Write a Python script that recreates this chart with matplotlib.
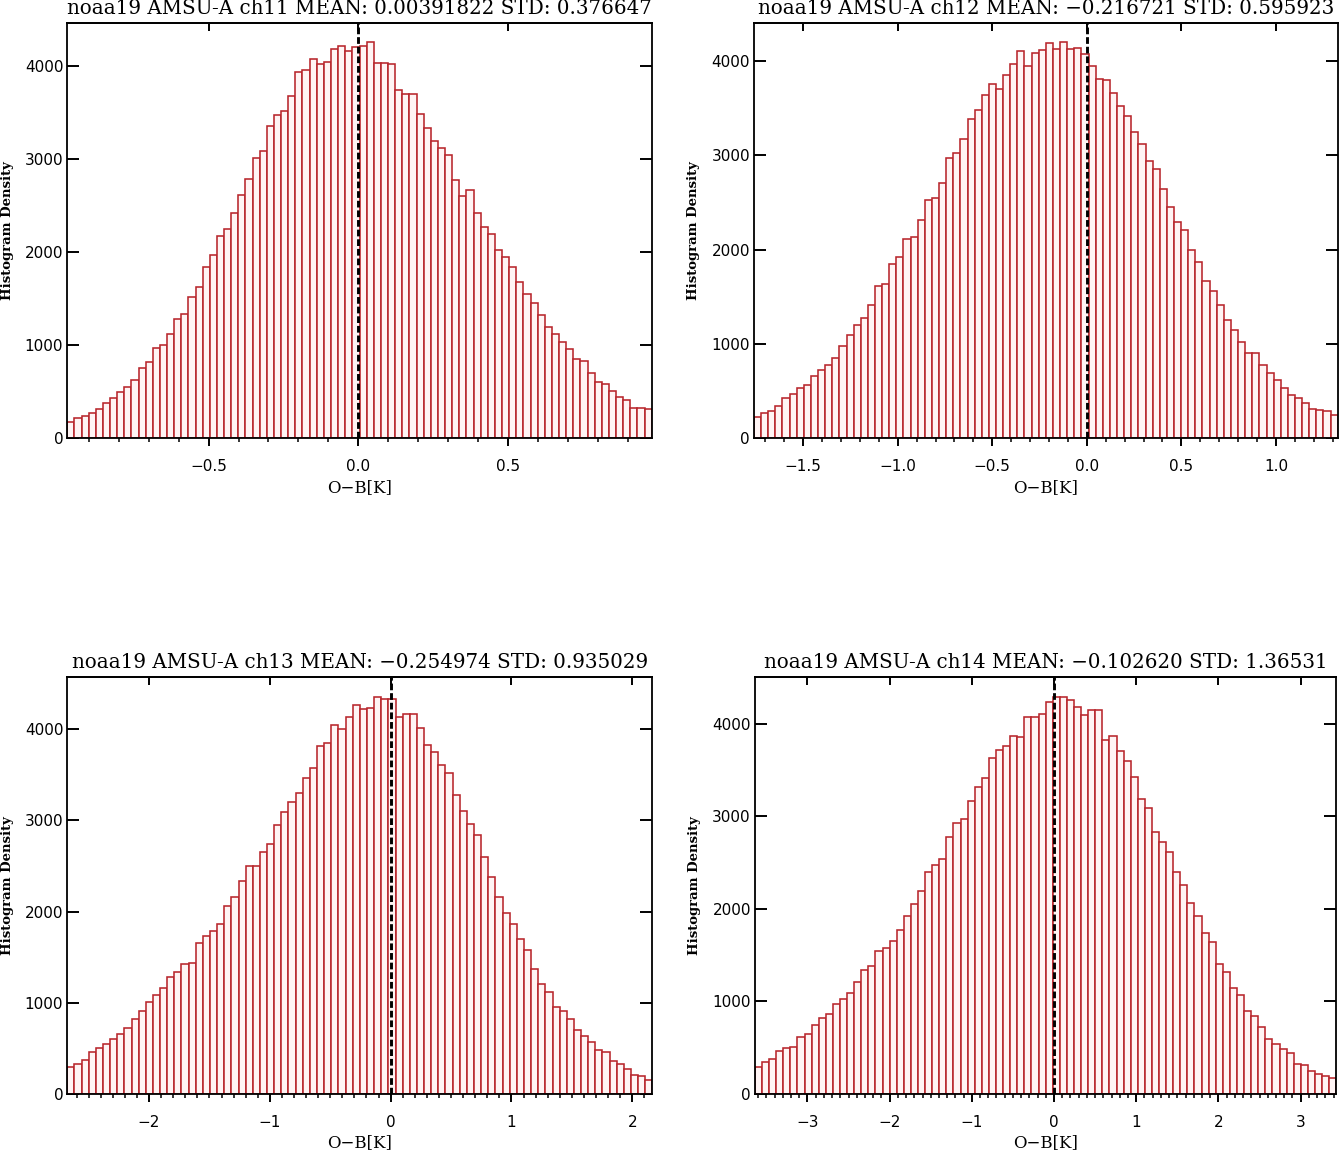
import matplotlib
matplotlib.use("Agg")
import matplotlib.pyplot as plt
import numpy as np
from matplotlib.ticker import FixedLocator, MultipleLocator, NullLocator, FuncFormatter

# ---------------- data ----------------
channels = ["ch11", "ch12", "ch13", "ch14"]
mean_txt = ["0.00391822", "-0.216721", "-0.254974", "-0.102620"]
std_txt = ["0.376647", "0.595923", "0.935029", "1.36531"]

# histogram range (left, right) of each panel, O-B [K]
range_lo = [-0.9716, -1.7602, -2.6767, -3.6388]
range_hi = [0.9794, 1.3267, 2.1668, 3.4335]

counts_ch11 = [179, 222, 236, 272, 318, 383, 436, 497, 551, 626,
               758, 819, 969, 1001, 1126, 1283, 1337, 1516, 1627, 1838,
               1966, 2170, 2249, 2420, 2620, 2792, 3017, 3089, 3357, 3478,
               3518, 3675, 3933, 3958, 4072, 4018, 4047, 4186, 4215, 4165,
               4201, 4215, 4254, 4036, 4029, 4018, 3739, 3700, 3700, 3482,
               3339, 3192, 3117, 3042, 2781, 2599, 2674, 2424, 2270, 2199,
               2020, 1948, 1845, 1680, 1548, 1459, 1330, 1201, 1126, 1033,
               962, 854, 826, 697, 608, 579, 508, 440, 411, 329,
               329, 310]
counts_ch12 = [229, 271, 292, 342, 423, 468, 535, 567, 658, 725,
               775, 852, 979, 1099, 1201, 1271, 1412, 1616, 1634, 1852,
               1919, 2113, 2130, 2313, 2528, 2546, 2701, 2972, 3021, 3176,
               3384, 3482, 3634, 3757, 3701, 3845, 3961, 4105, 3944, 4081,
               4116, 4186, 4123, 4194, 4130, 4137, 4070, 3947, 3810, 3792,
               3662, 3517, 3415, 3243, 3120, 2933, 2852, 2641, 2454, 2296,
               2211, 1996, 1873, 1662, 1560, 1408, 1253, 1148, 1025, 908,
               901, 775, 694, 616, 535, 461, 423, 377, 310, 296,
               289, 250]
counts_ch13 = [300, 326, 374, 458, 509, 553, 601, 659, 725, 824,
               905, 1007, 1081, 1161, 1278, 1333, 1429, 1432, 1656, 1733,
               1784, 1861, 2066, 2158, 2341, 2498, 2498, 2659, 2740, 2952,
               3088, 3198, 3300, 3469, 3571, 3817, 3853, 4051, 4004, 4136,
               4271, 4223, 4231, 4359, 4330, 4330, 4132, 4168, 4172, 4011,
               3831, 3755, 3604, 3520, 3278, 3099, 2956, 2839, 2601, 2381,
               2158, 1989, 1864, 1700, 1579, 1366, 1205, 1121, 949, 912,
               821, 703, 634, 568, 484, 462, 359, 326, 278, 209,
               198, 154]
counts_ch14 = [289, 347, 375, 469, 502, 505, 617, 650, 744, 823,
               866, 975, 1029, 1097, 1213, 1339, 1383, 1541, 1574, 1657,
               1776, 1921, 2058, 2198, 2401, 2480, 2545, 2783, 2931, 2975,
               3166, 3321, 3411, 3628, 3718, 3762, 3874, 3859, 4079, 4079,
               4112, 4242, 4289, 4296, 4260, 4188, 4094, 4148, 4148, 3823,
               3866, 3704, 3596, 3426, 3184, 3087, 2827, 2726, 2617, 2404,
               2256, 2069, 1928, 1744, 1643, 1408, 1321, 1148, 1065, 899,
               845, 729, 599, 542, 484, 440, 325, 310, 249, 217,
               195, 177]
all_counts = [counts_ch11, counts_ch12, counts_ch13, counts_ch14]

xtick_major = [[-0.5, 0.0, 0.5],
               [-1.5, -1.0, -0.5, 0.0, 0.5, 1.0],
               [-2, -1, 0, 1, 2],
               [-3, -2, -1, 0, 1, 2, 3]]
xtick_fmt = ["%.1f", "%.1f", "%d", "%d"]
ytick_vals = [0, 1000, 2000, 3000, 4000]

# ---------------- layout (pixels) ----------------
W, H = 1339, 1150
boxes = [(67.3, 22.7, 651.7, 438.3),
         (754.0, 22.7, 1337.7, 438.3),
         (67.3, 676.7, 652.4, 1094.0),
         (754.9, 676.7, 1336.3, 1094.0)]

fig = plt.figure(figsize=(W / 100, H / 100), dpi=100)
fig.patch.set_facecolor("white")

edge_col = "#b8262c"
face_col = "#fff4f4"
px2pt = 72.0 / 100.0


def make_fmt(f):
    def _fmt(v, pos):
        s = f % (round(v) if f == "%d" else v)
        return s.replace("-", "\u2212")
    return FuncFormatter(_fmt)


for i in range(4):
    x0, y0, x1, y1 = boxes[i]
    ax = fig.add_axes([x0 / W, 1 - y1 / H, (x1 - x0) / W, (y1 - y0) / H])
    counts = np.array(all_counts[i], dtype=float)
    edges = np.linspace(range_lo[i], range_hi[i], len(counts) + 1)
    widths = np.diff(edges)
    ax.bar(edges[:-1], counts, width=widths, align="edge",
           facecolor=face_col, edgecolor=edge_col, linewidth=1.15, zorder=2)
    ax.set_xlim(range_lo[i], range_hi[i])
    ax.set_ylim(0, counts.max() * 1.05)
    ax.axvline(0.0, color="black", lw=2.1, dashes=(2.3, 1.0), zorder=4)

    for sp in ax.spines.values():
        sp.set_linewidth(1.3)
        sp.set_color("black")
        sp.set_zorder(5)

    ax.xaxis.set_major_locator(FixedLocator(xtick_major[i]))
    ax.xaxis.set_major_formatter(make_fmt(xtick_fmt[i]))
    ax.xaxis.set_minor_locator(MultipleLocator(0.1))
    ax.tick_params(axis="x", which="major", direction="out", length=8 * px2pt,
                   width=1.4, top=False, pad=13 * px2pt, labelsize=11)
    ax.tick_params(axis="x", which="minor", direction="out", length=4 * px2pt,
                   width=1.1, top=False)
    ax.yaxis.set_major_locator(FixedLocator(ytick_vals))
    ax.yaxis.set_minor_locator(NullLocator())
    ax.tick_params(axis="y", which="major", direction="in", length=12 * px2pt,
                   width=1.4, left=True, right=True, pad=4 * px2pt, labelsize=11)
    for lab in ax.get_xticklabels() + ax.get_yticklabels():
        lab.set_family("DejaVu Sans")

    sec = ax.secondary_xaxis("top")
    sec.xaxis.set_major_locator(FixedLocator(xtick_major[i]))
    sec.xaxis.set_minor_locator(NullLocator())
    sec.tick_params(axis="x", which="major", direction="in", length=8 * px2pt,
                    width=1.4, labeltop=False)
    sec.spines["top"].set_linewidth(1.3)

    title = "noaa19 AMSU-A %s MEAN: %s STD: %s" % (
        channels[i], mean_txt[i].replace("-", "\u2212"), std_txt[i])
    fig.text((x0 + x1) / 2 / W, 1 - (y0 - 14) / H, title, ha="center",
             va="center", family="DejaVu Serif", fontsize=14.3)
    fig.text((x0 + x1) / 2 / W, 1 - (y1 + 49) / H, "O\u2212B[K]", ha="center",
             va="center", family="DejaVu Serif", fontsize=12)
    fig.text((x0 - 60) / W, 1 - (y0 + y1) / 2 / H, "Histogram Density",
             ha="center", va="center", rotation=90, family="DejaVu Serif",
             fontweight="bold", fontsize=9.5)

fig.savefig("out.png", dpi=100, facecolor="white")
